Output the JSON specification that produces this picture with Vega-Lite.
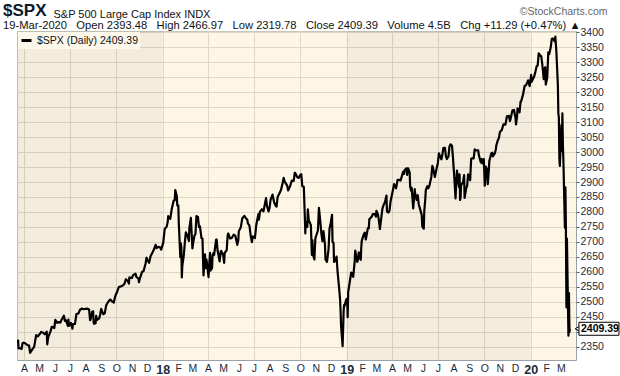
{
"$schema": "https://vega.github.io/schema/vega-lite/v6.json",
"width": 559, "height": 329,
"autosize": {"type": "none"},
"padding": {"left": 17, "top": 31, "right": 44, "bottom": 16},
"background": "#ffffff",
"config": {"view": {"stroke": "#95a0a8", "strokeWidth": 1}, "font": "Liberation Sans"},
"title": {
  "text": "$SPX",
  "subtitle": "19-Mar-2020 \u00a0\u00a0Open 2393.48 \u00a0\u00a0High 2466.97 \u00a0\u00a0Low 2319.78 \u00a0\u00a0Close 2409.39 \u00a0\u00a0Volume 4.5B \u00a0\u00a0Chg +11.29 (+0.47%) ▲",
  "anchor": "start", "frame": "group", "dx": -14, "dy": 28, "offset": 2,
  "font": "Liberation Sans", "fontSize": 17, "fontWeight": "bold", "color": "#0d1a2b",
  "subtitleFont": "Liberation Sans", "subtitleFontSize": 11.2, "subtitleColor": "#111111", "subtitlePadding": 0
},
"datasets": {
  "years": [
    {"s": "2017-01-01", "e": "2018-01-01", "yr": "2017"},
    {"s": "2018-01-01", "e": "2019-01-01", "yr": "2018"},
    {"s": "2019-01-01", "e": "2020-01-01", "yr": "2019"},
    {"s": "2020-01-01", "e": "2021-01-01", "yr": "2020"}
  ],
  "last": [{"d": "2020-03-19", "c": 2409.39}],
  "spx": [
{"d":"2017-03-20","c":2373},{"d":"2017-03-21","c":2344},{"d":"2017-03-23","c":2345},{"d":"2017-03-27","c":2342},{"d":"2017-03-29","c":2361},{"d":"2017-03-31","c":2363},
{"d":"2017-04-04","c":2360},{"d":"2017-04-07","c":2355},{"d":"2017-04-11","c":2353},{"d":"2017-04-13","c":2329},{"d":"2017-04-18","c":2342},{"d":"2017-04-21","c":2349},{"d":"2017-04-25","c":2388},{"d":"2017-04-28","c":2384},
{"d":"2017-05-02","c":2391},{"d":"2017-05-05","c":2399},{"d":"2017-05-09","c":2396},{"d":"2017-05-12","c":2391},{"d":"2017-05-16","c":2400},{"d":"2017-05-17","c":2357},{"d":"2017-05-19","c":2382},{"d":"2017-05-23","c":2398},{"d":"2017-05-26","c":2416},{"d":"2017-05-31","c":2412},
{"d":"2017-06-02","c":2439},{"d":"2017-06-06","c":2429},{"d":"2017-06-09","c":2432},{"d":"2017-06-12","c":2430},{"d":"2017-06-14","c":2438},{"d":"2017-06-19","c":2453},{"d":"2017-06-21","c":2436},{"d":"2017-06-23","c":2438},{"d":"2017-06-27","c":2419},{"d":"2017-06-28","c":2440},{"d":"2017-06-29","c":2419},
{"d":"2017-07-03","c":2429},{"d":"2017-07-06","c":2410},{"d":"2017-07-07","c":2425},{"d":"2017-07-11","c":2426},{"d":"2017-07-14","c":2459},{"d":"2017-07-18","c":2461},{"d":"2017-07-21","c":2473},{"d":"2017-07-25","c":2477},{"d":"2017-07-27","c":2475},
{"d":"2017-08-01","c":2476},{"d":"2017-08-04","c":2477},{"d":"2017-08-08","c":2474},{"d":"2017-08-10","c":2438},{"d":"2017-08-11","c":2441},{"d":"2017-08-14","c":2466},{"d":"2017-08-16","c":2468},{"d":"2017-08-17","c":2430},{"d":"2017-08-18","c":2426},{"d":"2017-08-21","c":2428},{"d":"2017-08-22","c":2453},{"d":"2017-08-24","c":2439},{"d":"2017-08-28","c":2444},{"d":"2017-08-30","c":2457},
{"d":"2017-09-01","c":2476},{"d":"2017-09-05","c":2458},{"d":"2017-09-08","c":2461},{"d":"2017-09-11","c":2488},{"d":"2017-09-15","c":2500},{"d":"2017-09-19","c":2507},{"d":"2017-09-22","c":2502},{"d":"2017-09-26","c":2497},{"d":"2017-09-29","c":2519},
{"d":"2017-10-03","c":2535},{"d":"2017-10-06","c":2549},{"d":"2017-10-10","c":2551},{"d":"2017-10-13","c":2553},{"d":"2017-10-17","c":2559},{"d":"2017-10-20","c":2575},{"d":"2017-10-24","c":2569},{"d":"2017-10-26","c":2560},{"d":"2017-10-27","c":2581},
{"d":"2017-11-01","c":2579},{"d":"2017-11-03","c":2588},{"d":"2017-11-08","c":2594},{"d":"2017-11-10","c":2582},{"d":"2017-11-14","c":2578},{"d":"2017-11-15","c":2565},{"d":"2017-11-17","c":2579},{"d":"2017-11-21","c":2599},{"d":"2017-11-24","c":2602},{"d":"2017-11-28","c":2627},{"d":"2017-11-30","c":2647},
{"d":"2017-12-01","c":2642},{"d":"2017-12-05","c":2630},{"d":"2017-12-08","c":2652},{"d":"2017-12-12","c":2665},{"d":"2017-12-15","c":2676},{"d":"2017-12-18","c":2690},{"d":"2017-12-20","c":2679},{"d":"2017-12-22","c":2683},{"d":"2017-12-27","c":2682},{"d":"2017-12-29","c":2674},
{"d":"2018-01-02","c":2696},{"d":"2018-01-05","c":2743},{"d":"2018-01-09","c":2751},{"d":"2018-01-11","c":2767},{"d":"2018-01-12","c":2786},{"d":"2018-01-16","c":2777},{"d":"2018-01-18","c":2798},{"d":"2018-01-19","c":2810},{"d":"2018-01-23","c":2839},{"d":"2018-01-25","c":2839},{"d":"2018-01-26","c":2873},{"d":"2018-01-29","c":2853},{"d":"2018-01-30","c":2822},
{"d":"2018-02-01","c":2822},{"d":"2018-02-02","c":2762},{"d":"2018-02-05","c":2649},{"d":"2018-02-06","c":2695},{"d":"2018-02-07","c":2682},{"d":"2018-02-08","c":2581},{"d":"2018-02-09","c":2620},{"d":"2018-02-12","c":2656},{"d":"2018-02-14","c":2698},{"d":"2018-02-16","c":2732},{"d":"2018-02-20","c":2716},{"d":"2018-02-22","c":2703},{"d":"2018-02-23","c":2747},{"d":"2018-02-26","c":2780},{"d":"2018-02-27","c":2745},
{"d":"2018-03-01","c":2678},{"d":"2018-03-02","c":2691},{"d":"2018-03-05","c":2721},{"d":"2018-03-07","c":2726},{"d":"2018-03-09","c":2786},{"d":"2018-03-12","c":2783},{"d":"2018-03-14","c":2749},{"d":"2018-03-16","c":2752},{"d":"2018-03-19","c":2712},{"d":"2018-03-21","c":2711},{"d":"2018-03-22","c":2644},{"d":"2018-03-23","c":2588},{"d":"2018-03-26","c":2658},{"d":"2018-03-27","c":2612},{"d":"2018-03-29","c":2641},
{"d":"2018-04-02","c":2582},{"d":"2018-04-03","c":2614},{"d":"2018-04-05","c":2663},{"d":"2018-04-06","c":2604},{"d":"2018-04-09","c":2613},{"d":"2018-04-10","c":2656},{"d":"2018-04-12","c":2663},{"d":"2018-04-13","c":2656},{"d":"2018-04-17","c":2707},{"d":"2018-04-18","c":2708},{"d":"2018-04-20","c":2670},{"d":"2018-04-24","c":2635},{"d":"2018-04-26","c":2667},{"d":"2018-04-27","c":2670},
{"d":"2018-05-01","c":2655},{"d":"2018-05-03","c":2630},{"d":"2018-05-04","c":2663},{"d":"2018-05-08","c":2672},{"d":"2018-05-10","c":2723},{"d":"2018-05-11","c":2728},{"d":"2018-05-15","c":2711},{"d":"2018-05-18","c":2713},{"d":"2018-05-22","c":2724},{"d":"2018-05-25","c":2721},{"d":"2018-05-29","c":2690},{"d":"2018-05-31","c":2705},
{"d":"2018-06-01","c":2735},{"d":"2018-06-05","c":2749},{"d":"2018-06-08","c":2779},{"d":"2018-06-12","c":2787},{"d":"2018-06-15","c":2779},{"d":"2018-06-18","c":2774},{"d":"2018-06-19","c":2762},{"d":"2018-06-22","c":2755},{"d":"2018-06-25","c":2717},{"d":"2018-06-27","c":2699},{"d":"2018-06-29","c":2718},
{"d":"2018-07-03","c":2713},{"d":"2018-07-06","c":2760},{"d":"2018-07-10","c":2793},{"d":"2018-07-11","c":2774},{"d":"2018-07-13","c":2801},{"d":"2018-07-17","c":2809},{"d":"2018-07-20","c":2802},{"d":"2018-07-25","c":2846},{"d":"2018-07-27","c":2819},{"d":"2018-07-30","c":2802},
{"d":"2018-08-01","c":2813},{"d":"2018-08-03","c":2840},{"d":"2018-08-07","c":2858},{"d":"2018-08-10","c":2833},{"d":"2018-08-13","c":2821},{"d":"2018-08-15","c":2818},{"d":"2018-08-17","c":2850},{"d":"2018-08-21","c":2863},{"d":"2018-08-24","c":2875},{"d":"2018-08-27","c":2897},{"d":"2018-08-29","c":2914},{"d":"2018-08-31","c":2902},
{"d":"2018-09-05","c":2888},{"d":"2018-09-07","c":2872},{"d":"2018-09-11","c":2887},{"d":"2018-09-14","c":2905},{"d":"2018-09-18","c":2904},{"d":"2018-09-20","c":2931},{"d":"2018-09-21","c":2930},{"d":"2018-09-25","c":2916},{"d":"2018-09-28","c":2914},
{"d":"2018-10-01","c":2924},{"d":"2018-10-03","c":2926},{"d":"2018-10-05","c":2886},{"d":"2018-10-08","c":2884},{"d":"2018-10-10","c":2786},{"d":"2018-10-11","c":2728},{"d":"2018-10-12","c":2767},{"d":"2018-10-15","c":2750},{"d":"2018-10-16","c":2809},{"d":"2018-10-18","c":2769},{"d":"2018-10-19","c":2768},{"d":"2018-10-22","c":2756},{"d":"2018-10-24","c":2656},{"d":"2018-10-25","c":2706},{"d":"2018-10-26","c":2659},{"d":"2018-10-29","c":2641},{"d":"2018-10-30","c":2682},{"d":"2018-10-31","c":2712},
{"d":"2018-11-02","c":2723},{"d":"2018-11-05","c":2738},{"d":"2018-11-07","c":2814},{"d":"2018-11-09","c":2781},{"d":"2018-11-12","c":2726},{"d":"2018-11-14","c":2702},{"d":"2018-11-16","c":2736},{"d":"2018-11-19","c":2690},{"d":"2018-11-20","c":2641},{"d":"2018-11-23","c":2633},{"d":"2018-11-26","c":2674},{"d":"2018-11-28","c":2744},{"d":"2018-11-30","c":2760},
{"d":"2018-12-03","c":2790},{"d":"2018-12-04","c":2700},{"d":"2018-12-06","c":2696},{"d":"2018-12-07","c":2633},{"d":"2018-12-10","c":2637},{"d":"2018-12-12","c":2651},{"d":"2018-12-14","c":2600},{"d":"2018-12-17","c":2546},{"d":"2018-12-19","c":2507},{"d":"2018-12-20","c":2467},{"d":"2018-12-21","c":2417},{"d":"2018-12-24","c":2351},{"d":"2018-12-26","c":2468},{"d":"2018-12-27","c":2489},{"d":"2018-12-28","c":2486},{"d":"2018-12-31","c":2507},
{"d":"2019-01-02","c":2510},{"d":"2019-01-03","c":2448},{"d":"2019-01-04","c":2532},{"d":"2019-01-08","c":2575},{"d":"2019-01-10","c":2597},{"d":"2019-01-11","c":2596},{"d":"2019-01-14","c":2583},{"d":"2019-01-17","c":2636},{"d":"2019-01-18","c":2671},{"d":"2019-01-22","c":2633},{"d":"2019-01-24","c":2643},{"d":"2019-01-25","c":2665},{"d":"2019-01-29","c":2640},{"d":"2019-01-30","c":2682},{"d":"2019-01-31","c":2704},
{"d":"2019-02-04","c":2725},{"d":"2019-02-06","c":2731},{"d":"2019-02-08","c":2708},{"d":"2019-02-12","c":2745},{"d":"2019-02-14","c":2746},{"d":"2019-02-15","c":2776},{"d":"2019-02-20","c":2785},{"d":"2019-02-22","c":2793},{"d":"2019-02-26","c":2793},{"d":"2019-02-28","c":2784},
{"d":"2019-03-01","c":2804},{"d":"2019-03-04","c":2792},{"d":"2019-03-06","c":2772},{"d":"2019-03-08","c":2743},{"d":"2019-03-11","c":2784},{"d":"2019-03-13","c":2811},{"d":"2019-03-15","c":2822},{"d":"2019-03-18","c":2833},{"d":"2019-03-21","c":2855},{"d":"2019-03-22","c":2801},{"d":"2019-03-25","c":2798},{"d":"2019-03-27","c":2805},{"d":"2019-03-29","c":2834},
{"d":"2019-04-02","c":2867},{"d":"2019-04-05","c":2893},{"d":"2019-04-09","c":2879},{"d":"2019-04-12","c":2907},{"d":"2019-04-16","c":2907},{"d":"2019-04-18","c":2905},{"d":"2019-04-23","c":2934},{"d":"2019-04-25","c":2927},{"d":"2019-04-26","c":2940},{"d":"2019-04-30","c":2946},
{"d":"2019-05-01","c":2924},{"d":"2019-05-03","c":2946},{"d":"2019-05-06","c":2932},{"d":"2019-05-07","c":2884},{"d":"2019-05-09","c":2871},{"d":"2019-05-10","c":2881},{"d":"2019-05-13","c":2812},{"d":"2019-05-15","c":2851},{"d":"2019-05-16","c":2876},{"d":"2019-05-17","c":2860},{"d":"2019-05-20","c":2840},{"d":"2019-05-22","c":2856},{"d":"2019-05-24","c":2826},{"d":"2019-05-28","c":2802},{"d":"2019-05-30","c":2789},{"d":"2019-05-31","c":2752},
{"d":"2019-06-03","c":2744},{"d":"2019-06-04","c":2803},{"d":"2019-06-06","c":2843},{"d":"2019-06-07","c":2873},{"d":"2019-06-10","c":2886},{"d":"2019-06-12","c":2879},{"d":"2019-06-14","c":2887},{"d":"2019-06-18","c":2917},{"d":"2019-06-20","c":2954},{"d":"2019-06-21","c":2950},{"d":"2019-06-25","c":2917},{"d":"2019-06-28","c":2942},
{"d":"2019-07-01","c":2964},{"d":"2019-07-03","c":2996},{"d":"2019-07-08","c":2976},{"d":"2019-07-10","c":2993},{"d":"2019-07-12","c":3014},{"d":"2019-07-15","c":3014},{"d":"2019-07-17","c":2985},{"d":"2019-07-19","c":2977},{"d":"2019-07-22","c":2986},{"d":"2019-07-24","c":3019},{"d":"2019-07-26","c":3026},{"d":"2019-07-29","c":3021},{"d":"2019-07-31","c":2980},
{"d":"2019-08-01","c":2953},{"d":"2019-08-02","c":2932},{"d":"2019-08-05","c":2845},{"d":"2019-08-06","c":2882},{"d":"2019-08-08","c":2938},{"d":"2019-08-09","c":2919},{"d":"2019-08-12","c":2883},{"d":"2019-08-13","c":2926},{"d":"2019-08-14","c":2840},{"d":"2019-08-15","c":2848},{"d":"2019-08-16","c":2889},{"d":"2019-08-20","c":2900},{"d":"2019-08-22","c":2923},{"d":"2019-08-23","c":2847},{"d":"2019-08-26","c":2878},{"d":"2019-08-28","c":2887},{"d":"2019-08-30","c":2926},
{"d":"2019-09-03","c":2906},{"d":"2019-09-05","c":2977},{"d":"2019-09-06","c":2979},{"d":"2019-09-10","c":2979},{"d":"2019-09-12","c":3009},{"d":"2019-09-13","c":3007},{"d":"2019-09-17","c":3006},{"d":"2019-09-19","c":3006},{"d":"2019-09-20","c":2992},{"d":"2019-09-24","c":2966},{"d":"2019-09-26","c":2977},{"d":"2019-09-27","c":2962},{"d":"2019-09-30","c":2977},
{"d":"2019-10-01","c":2940},{"d":"2019-10-02","c":2888},{"d":"2019-10-03","c":2910},{"d":"2019-10-04","c":2952},{"d":"2019-10-07","c":2939},{"d":"2019-10-08","c":2893},{"d":"2019-10-10","c":2938},{"d":"2019-10-11","c":2970},{"d":"2019-10-15","c":2996},{"d":"2019-10-17","c":2998},{"d":"2019-10-18","c":2986},{"d":"2019-10-22","c":2996},{"d":"2019-10-24","c":3010},{"d":"2019-10-25","c":3023},{"d":"2019-10-28","c":3040},{"d":"2019-10-30","c":3047},
{"d":"2019-11-01","c":3067},{"d":"2019-11-05","c":3075},{"d":"2019-11-08","c":3093},{"d":"2019-11-12","c":3092},{"d":"2019-11-15","c":3120},{"d":"2019-11-19","c":3121},{"d":"2019-11-21","c":3104},{"d":"2019-11-22","c":3110},{"d":"2019-11-26","c":3140},{"d":"2019-11-29","c":3141},
{"d":"2019-12-02","c":3114},{"d":"2019-12-03","c":3093},{"d":"2019-12-05","c":3118},{"d":"2019-12-06","c":3146},{"d":"2019-12-10","c":3133},{"d":"2019-12-12","c":3169},{"d":"2019-12-13","c":3169},{"d":"2019-12-17","c":3193},{"d":"2019-12-20","c":3221},{"d":"2019-12-23","c":3224},{"d":"2019-12-27","c":3240},{"d":"2019-12-30","c":3221},{"d":"2019-12-31","c":3231},
{"d":"2020-01-02","c":3258},{"d":"2020-01-03","c":3235},{"d":"2020-01-06","c":3246},{"d":"2020-01-08","c":3253},{"d":"2020-01-10","c":3265},{"d":"2020-01-13","c":3288},{"d":"2020-01-15","c":3289},{"d":"2020-01-17","c":3330},{"d":"2020-01-21","c":3321},{"d":"2020-01-22","c":3321},{"d":"2020-01-24","c":3295},{"d":"2020-01-27","c":3244},{"d":"2020-01-28","c":3276},{"d":"2020-01-30","c":3284},{"d":"2020-01-31","c":3226},
{"d":"2020-02-03","c":3249},{"d":"2020-02-05","c":3334},{"d":"2020-02-07","c":3328},{"d":"2020-02-10","c":3352},{"d":"2020-02-12","c":3379},{"d":"2020-02-14","c":3380},{"d":"2020-02-18","c":3370},{"d":"2020-02-19","c":3386},{"d":"2020-02-21","c":3338},{"d":"2020-02-24","c":3226},{"d":"2020-02-25","c":3128},{"d":"2020-02-26","c":3116},{"d":"2020-02-27","c":2979},{"d":"2020-02-28","c":2954},
{"d":"2020-03-02","c":3090},{"d":"2020-03-03","c":3003},{"d":"2020-03-04","c":3130},{"d":"2020-03-05","c":3024},{"d":"2020-03-06","c":2972},{"d":"2020-03-09","c":2747},{"d":"2020-03-10","c":2882},{"d":"2020-03-11","c":2741},{"d":"2020-03-12","c":2481},{"d":"2020-03-13","c":2711},{"d":"2020-03-16","c":2386},{"d":"2020-03-17","c":2529},{"d":"2020-03-18","c":2398},{"d":"2020-03-19","c":2409.39}
  ]
},
"layer": [
  {
    "data": {"name": "years"},
    "mark": {"type": "rect", "clip": true, "opacity": 0.5},
    "encoding": {
      "x": {"field": "s", "type": "temporal",
        "scale": {"domain": [{"year": 2017, "month": 3, "date": 18}, {"year": 2020, "month": 3, "date": 31}]},
        "axis": {
          "orient": "bottom", "domain": false, "ticks": false, "labelPadding": 3, "zindex": 0,
          "tickCount": {"interval": "month", "step": 1},
          "labelExpr": "month(datum.value) == 0 ? timeFormat(datum.value, '%y') : slice(timeFormat(datum.value, '%b'), 0, 1)",
          "labelFontWeight": {"condition": {"test": "month(datum.value) == 0", "value": "bold"}, "value": "normal"},
          "labelFontSize": {"condition": {"test": "month(datum.value) == 0", "value": 12.5}, "value": 10.5},
          "labelColor": "#1c2b3a", "labelFont": "Liberation Sans", "labelOverlap": false, "labelFlush": false,
          "grid": true, "gridColor": "#c5c3bf",
          "gridOpacity": {"condition": {"test": "month(datum.value) % 3 == 0", "value": 1}, "value": 0},
          "title": "S&P 500 Large Cap Index  INDX", "titleX": 36, "titleY": -343, "titleAlign": "left",
          "titleBaseline": "alphabetic", "titleFontSize": 11, "titleFontWeight": "normal", "titleColor": "#111111", "titleFont": "Liberation Sans"
        }},
      "x2": {"field": "e"},
      "fill": {"field": "yr", "type": "nominal", "legend": null,
        "scale": {"domain": ["2017", "2018", "2019", "2020"], "range": ["#e7d9b9", "#fbedc9", "#e7d9b9", "#fbedc9"]}}
    }
  },
  {
    "data": {"name": "spx"},
    "mark": {"type": "line", "strokeWidth": 2.2, "clip": true, "strokeJoin": "round"},
    "encoding": {
      "x": {"field": "d", "type": "temporal"},
      "y": {"field": "c", "type": "quantitative",
        "scale": {"domain": [2305, 3405], "zero": false, "nice": false},
        "axis": {
          "orient": "right", "domain": false, "zindex": 0,
          "values": [2350, 2400, 2450, 2500, 2550, 2600, 2650, 2700, 2750, 2800, 2850, 2900, 2950, 3000, 3050, 3100, 3150, 3200, 3250, 3300, 3350, 3400],
          "labelExpr": "datum.value == 2400 ? '' : datum.label",
          "labelOverlap": false,
          "format": "d", "tickSize": 3, "tickColor": "#55606a", "labelPadding": 1,
          "labelFontSize": 10.5, "labelColor": "#1c2b3a", "labelFont": "Liberation Sans",
          "grid": true, "gridColor": "#c5c3bf",
          "title": "©StockCharts.com", "titleAngle": 0, "titleX": 31, "titleY": -17, "titleAlign": "right",
          "titleBaseline": "alphabetic", "titleFontSize": 10.5, "titleFontWeight": "normal", "titleColor": "#666666", "titleFont": "Liberation Sans"
        }},
      "color": {"datum": "$SPX (Daily) 2409.39", "scale": {"range": ["#000000"]},
        "legend": {"orient": "top-left", "offset": 1, "padding": 2, "title": null,
          "labelFontSize": 10.5, "labelFont": "Liberation Sans", "labelColor": "#111111",
          "symbolType": "stroke", "symbolStrokeWidth": 3, "symbolSize": 100, "fillColor": "#fdf8ec"}}
    }
  },
  {
    "data": {"name": "last"},
    "layer": [
      {"mark": {"type": "point", "shape": "triangle-left", "filled": true, "fill": "#ffffff", "stroke": "#000000", "strokeWidth": 1, "size": 40, "xOffset": 8, "opacity": 1}},
      {"mark": {"type": "rect", "fill": "#ffffff", "stroke": "#000000", "strokeWidth": 1, "xOffset": 9, "x2Offset": 49, "yOffset": -6.5, "y2Offset": 6.5},
       "encoding": {"x2": {"field": "d"}, "y2": {"field": "c"}}},
      {"mark": {"type": "text", "align": "left", "baseline": "middle", "dx": 11, "fontWeight": "bold", "fontSize": 10.5, "font": "Liberation Sans", "color": "#000000"},
       "encoding": {"text": {"field": "c", "type": "quantitative", "format": ".2f"}}}
    ],
    "encoding": {
      "x": {"field": "d", "type": "temporal",
        "axis": {
          "orient": "bottom", "domain": false, "ticks": false, "labelPadding": 3, "zindex": 0,
          "tickCount": {"interval": "month", "step": 1},
          "labelExpr": "month(datum.value) == 0 ? timeFormat(datum.value, '%y') : slice(timeFormat(datum.value, '%b'), 0, 1)",
          "labelFontWeight": {"condition": {"test": "month(datum.value) == 0", "value": "bold"}, "value": "normal"},
          "labelFontSize": {"condition": {"test": "month(datum.value) == 0", "value": 12.5}, "value": 10.5},
          "labelColor": "#1c2b3a", "labelFont": "Liberation Sans", "labelOverlap": false, "labelFlush": false,
          "grid": true, "gridColor": "#c5c3bf",
          "gridOpacity": {"condition": {"test": "month(datum.value) % 3 == 0", "value": 1}, "value": 0},
          "title": "S&P 500 Large Cap Index  INDX", "titleX": 36, "titleY": -343, "titleAlign": "left",
          "titleBaseline": "alphabetic", "titleFontSize": 11, "titleFontWeight": "normal", "titleColor": "#111111", "titleFont": "Liberation Sans"
        }},
      "y": {"field": "c", "type": "quantitative",
        "axis": {
          "orient": "right", "domain": false, "zindex": 0,
          "values": [2350, 2400, 2450, 2500, 2550, 2600, 2650, 2700, 2750, 2800, 2850, 2900, 2950, 3000, 3050, 3100, 3150, 3200, 3250, 3300, 3350, 3400],
          "labelExpr": "datum.value == 2400 ? '' : datum.label",
          "labelOverlap": false,
          "format": "d", "tickSize": 3, "tickColor": "#55606a", "labelPadding": 1,
          "labelFontSize": 10.5, "labelColor": "#1c2b3a", "labelFont": "Liberation Sans",
          "grid": true, "gridColor": "#c5c3bf",
          "title": "©StockCharts.com", "titleAngle": 0, "titleX": 31, "titleY": -17, "titleAlign": "right",
          "titleBaseline": "alphabetic", "titleFontSize": 10.5, "titleFontWeight": "normal", "titleColor": "#666666", "titleFont": "Liberation Sans"
        }}
    }
  }
]
}
